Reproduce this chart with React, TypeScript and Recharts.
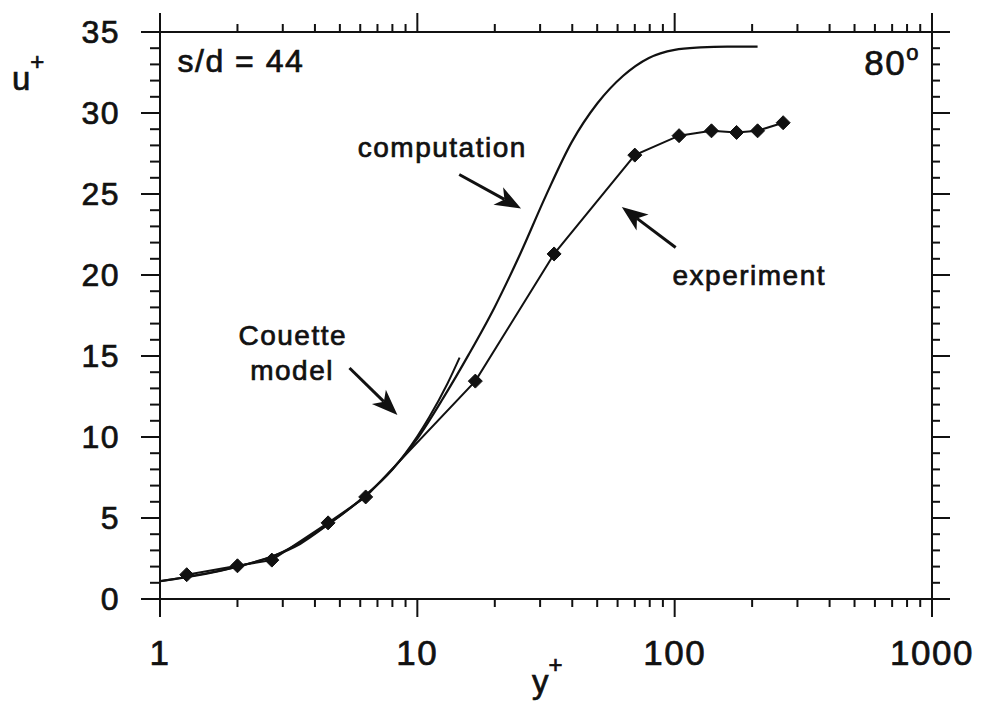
import React from "react";
import {
  ComposedChart,
  Line,
  XAxis,
  YAxis,
  ReferenceDot,
  ReferenceLine,
} from "recharts";

// experiment: y+ and u+ of the measured points (diamonds)
const expYPlus = [1.27, 2.0, 2.72, 4.5, 6.3, 16.8, 34, 70, 104, 139, 174, 210, 264];
const expUPlus = [1.5, 2.05, 2.4, 4.7, 6.3, 13.45, 21.3, 27.4, 28.6, 28.9, 28.8, 28.9, 29.4];

// computation curve
const compYPlus = [1, 1.5, 2, 2.7, 3.5, 4.5, 6.3, 8, 10, 12.6, 15.85, 19.95, 25.1, 31.6, 39.8, 50.1, 63.1, 79.4, 100, 126, 160, 210];
const compUPlus = [1.1, 1.55, 2.0, 2.6, 3.4, 4.6, 6.4, 8.0, 9.9, 12.4, 15.1, 18.0, 21.3, 24.9, 28.2, 30.6, 32.3, 33.4, 33.9, 34.05, 34.1, 34.1];

// Couette model curve
const couetteYPlus = [1, 2, 2.7, 4.5, 6.3, 8, 10, 11.1, 13.1, 14.6];
const couetteUPlus = [1.1, 2.0, 2.6, 4.6, 6.4, 8.0, 10.05, 11.2, 13.3, 14.9];

const X_TICKS = [1, 2, 3, 4, 5, 6, 7, 8, 9, 10, 20, 30, 40, 50, 60, 70, 80, 90, 100, 200, 300, 400, 500, 600, 700, 800, 900, 1000];
const X_LABELS = [1, 10, 100, 1000];
const Y_TICKS = [0, 1, 2, 3, 4, 5, 6, 7, 8, 9, 10, 11, 12, 13, 14, 15, 16, 17, 18, 19, 20, 21, 22, 23, 24, 25, 26, 27, 28, 29, 30, 31, 32, 33, 34, 35];
const Y_LABELS = [0, 5, 10, 15, 20, 25, 30, 35];

const experiment = expYPlus.map((x, i) => ({ x, u: expUPlus[i] }));
const computation = compYPlus.map((x, i) => ({ x, u: compUPlus[i] }));
const couette = couetteYPlus.map((x, i) => ({ x, u: couetteUPlus[i] }));

const FONT = "'Liberation Sans', Arial, Helvetica, sans-serif";
const INK = "#111";

const textStyle = {
  fontFamily: FONT,
  fill: INK,
  stroke: INK,
  strokeWidth: 0.7,
};

function BottomTick({ x, y, payload }: any) {
  const major = X_LABELS.includes(payload.value);
  return (
    <g>
      <line x1={x} x2={x} y1={y} y2={y + (major ? 18 : 8)} stroke={INK} strokeWidth={2} />
      {major && (
        <text x={x} y={y + 66} textAnchor="middle" fontSize={35} letterSpacing={1.5} {...textStyle}>
          {payload.value}
        </text>
      )}
    </g>
  );
}

function TopTick({ x, y, payload }: any) {
  const major = X_LABELS.includes(payload.value);
  return <line x1={x} x2={x} y1={y} y2={y - (major ? 19 : 8)} stroke={INK} strokeWidth={2} />;
}

function LeftTick({ x, y, payload }: any) {
  const major = Y_LABELS.includes(payload.value);
  return (
    <g>
      <line x1={x} x2={x - (major ? 19 : 10)} y1={y} y2={y} stroke={INK} strokeWidth={2} />
      {major && (
        <text x={x - 40} y={y + 11} textAnchor="end" fontSize={32} letterSpacing={1.5} {...textStyle}>
          {payload.value}
        </text>
      )}
    </g>
  );
}

function RightTick({ x, y, payload }: any) {
  const major = Y_LABELS.includes(payload.value);
  return <line x1={x} x2={x + (major ? 18 : 8)} y1={y} y2={y} stroke={INK} strokeWidth={2} />;
}

function Diamond({ cx, cy, index }: any) {
  const r = 7;
  return (
    <polygon
      key={`d-${index}`}
      points={`${cx},${cy - r} ${cx + r},${cy} ${cx},${cy + r} ${cx - r},${cy}`}
      fill={INK}
      stroke={INK}
    />
  );
}

function Arrow({ x1, y1, x2, y2 }: any) {
  const dx = x2 - x1;
  const dy = y2 - y1;
  const len = Math.hypot(dx, dy) || 1;
  const ux = dx / len;
  const uy = dy / len;
  const hl = 26;
  const hw = 10;
  const bx = x2 - ux * hl;
  const by = y2 - uy * hl;
  const nx = bx + ux * 7;
  const ny = by + uy * 7;
  const px = -uy;
  const py = ux;
  return (
    <g>
      <line x1={x1} y1={y1} x2={nx} y2={ny} stroke={INK} strokeWidth={3} />
      <polygon
        points={`${x2},${y2} ${bx + px * hw},${by + py * hw} ${nx},${ny} ${bx - px * hw},${by - py * hw}`}
        fill={INK}
      />
    </g>
  );
}

function note(text: string, anchor: "start" | "middle" | "end", size: number) {
  return ({ cx, cy }: any) => (
    <text x={cx} y={cy} textAnchor={anchor} fontSize={size} letterSpacing={1.5} {...textStyle}>
      {text}
    </text>
  );
}

function angleNote({ cx, cy }: any) {
  return (
    <text x={cx} y={cy} textAnchor="end" fontSize={35} letterSpacing={1.5} {...textStyle}>
      80
      <tspan fontSize={22} dy={-15}>
        o
      </tspan>
    </text>
  );
}

function ULabel({ viewBox }: any) {
  const vx = viewBox?.x ?? 0;
  const vy = viewBox?.y ?? 32;
  return (
    <text x={vx + 12} y={vy + 58} fontSize={33} {...textStyle}>
      u
      <tspan fontSize={24} dy={-20}>
        +
      </tspan>
    </text>
  );
}

function YPlusLabel({ viewBox }: any) {
  const vx = viewBox?.x ?? 160;
  const vy = viewBox?.y ?? 599;
  const vw = viewBox?.width ?? 772;
  return (
    <text x={vx + vw / 2 - 14} y={vy + 94} fontSize={33} {...textStyle}>
      y
      <tspan fontSize={24} dy={-20}>
        +
      </tspan>
    </text>
  );
}

const axisLine = { stroke: INK, strokeWidth: 2 };

export default function App() {
  return (
    <div style={{ width: 981, height: 703, background: "#fff" }}>
      <style>{"body{margin:0;background:#fff}"}</style>
      <ComposedChart width={981} height={703} margin={{ top: 0, right: 0, bottom: 0, left: 0 }}>
        <XAxis
          xAxisId="bottom"
          type="number"
          dataKey="x"
          scale="log"
          domain={[1, 1000]}
          allowDataOverflow
          ticks={X_TICKS}
          interval={0}
          height={104}
          tickSize={0}
          tickMargin={0}
          tickLine={false}
          axisLine={axisLine}
          tick={<BottomTick />}
          label={<YPlusLabel />}
        />
        <XAxis
          xAxisId="top"
          orientation="top"
          type="number"
          dataKey="x"
          scale="log"
          domain={[1, 1000]}
          allowDataOverflow
          ticks={X_TICKS}
          interval={0}
          height={32}
          tickSize={0}
          tickMargin={0}
          tickLine={false}
          axisLine={axisLine}
          tick={<TopTick />}
        />
        <YAxis
          yAxisId="left"
          type="number"
          domain={[0, 35]}
          allowDataOverflow
          ticks={Y_TICKS}
          interval={0}
          width={160}
          tickSize={0}
          tickMargin={0}
          tickLine={false}
          axisLine={axisLine}
          tick={<LeftTick />}
          label={<ULabel />}
        />
        <YAxis
          yAxisId="right"
          orientation="right"
          type="number"
          domain={[0, 35]}
          allowDataOverflow
          ticks={Y_TICKS}
          interval={0}
          width={49}
          tickSize={0}
          tickMargin={0}
          tickLine={false}
          axisLine={axisLine}
          tick={<RightTick />}
        />

        <Line
          xAxisId="bottom"
          yAxisId="left"
          data={couette}
          dataKey="u"
          type="monotone"
          stroke={INK}
          strokeWidth={2}
          dot={false}
          isAnimationActive={false}
        />
        <Line
          xAxisId="bottom"
          yAxisId="left"
          data={computation}
          dataKey="u"
          type="monotone"
          stroke={INK}
          strokeWidth={2.2}
          dot={false}
          isAnimationActive={false}
        />
        <Line
          xAxisId="bottom"
          yAxisId="left"
          data={experiment}
          dataKey="u"
          type="linear"
          stroke={INK}
          strokeWidth={2}
          dot={(p: any) => <Diamond key={`d-${p.index}`} {...p} />}
          isAnimationActive={false}
        />

        {/* annotations */}
        <ReferenceDot xAxisId="bottom" yAxisId="left" x={1.17} y={32.53} r={1} shape={note("s/d = 44", "start", 32)} />
        <ReferenceDot xAxisId="bottom" yAxisId="left" x={898} y={32.35} r={1} shape={angleNote} />
        <ReferenceDot xAxisId="bottom" yAxisId="left" x={12.5} y={27.28} r={1} shape={note("computation", "middle", 28)} />
        <ReferenceDot xAxisId="bottom" yAxisId="left" x={195} y={19.38} r={1} shape={note("experiment", "middle", 28)} />
        <ReferenceDot xAxisId="bottom" yAxisId="left" x={3.28} y={15.68} r={1} shape={note("Couette", "middle", 28)} />
        <ReferenceDot xAxisId="bottom" yAxisId="left" x={3.26} y={13.52} r={1} shape={note("model", "middle", 28)} />

        <ReferenceLine
          xAxisId="bottom"
          yAxisId="left"
          segment={[{ x: 14.55, y: 26.2 }, { x: 25.3, y: 24.1 }]}
          shape={(p: any) => <Arrow {...p} />}
        />
        <ReferenceLine
          xAxisId="bottom"
          yAxisId="left"
          segment={[{ x: 100.9, y: 21.7 }, { x: 62.3, y: 24.2 }]}
          shape={(p: any) => <Arrow {...p} />}
        />
        <ReferenceLine
          xAxisId="bottom"
          yAxisId="left"
          segment={[{ x: 5.45, y: 14.26 }, { x: 8.37, y: 11.36 }]}
          shape={(p: any) => <Arrow {...p} />}
        />
      </ComposedChart>
    </div>
  );
}
